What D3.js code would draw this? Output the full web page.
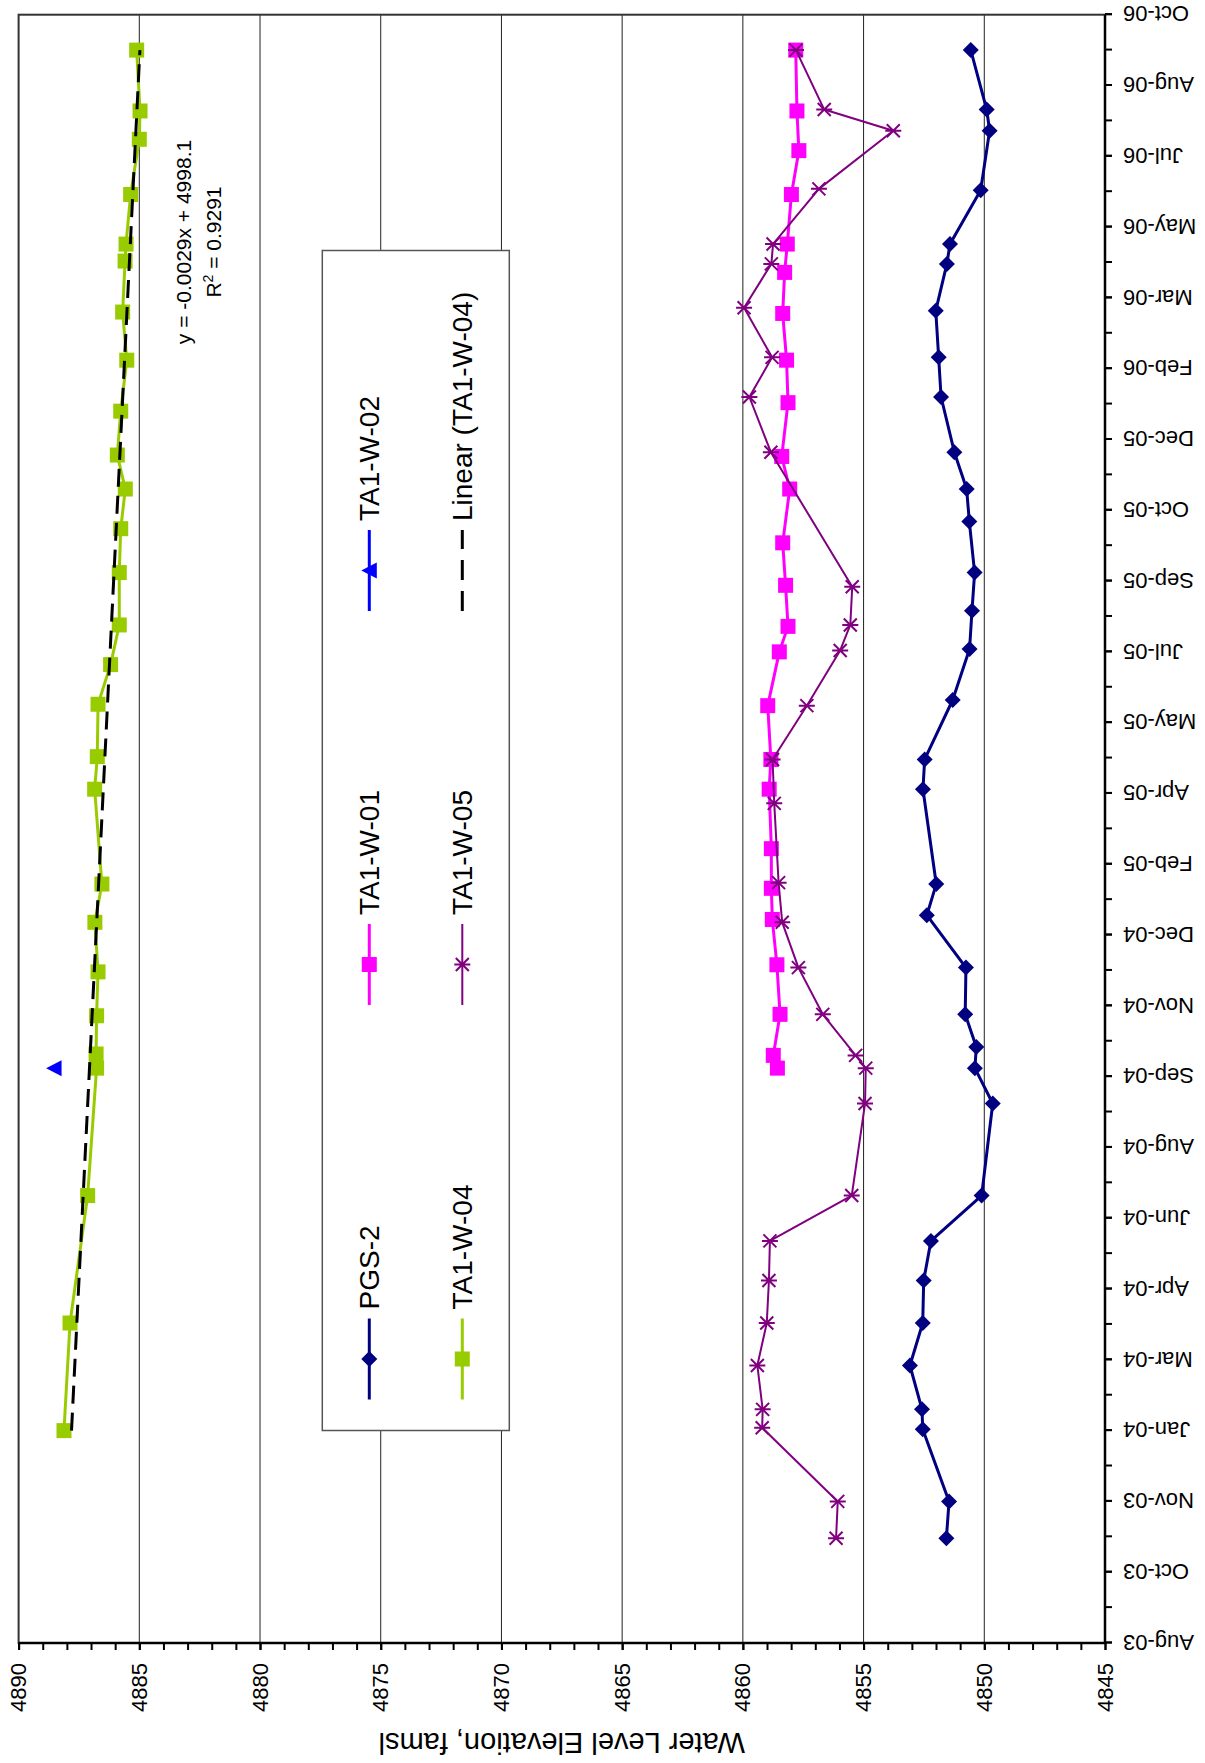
<!DOCTYPE html>
<html><head><meta charset="utf-8">
<script src="https://cdn.jsdelivr.net/npm/d3@7"></script>
<style>
body{margin:0;background:#fff}
svg{display:block}
text{font-family:"Liberation Sans",Arial,sans-serif;fill:#000}
</style>
</head><body>
<svg id="c" width="1205" height="1763"></svg>
<script>
// ---------------- DATA ----------------
const pgs2Dates = ["2003-10-30","2003-11-25","2004-01-15","2004-01-29","2004-02-29","2004-03-30","2004-04-29","2004-05-27","2004-06-28","2004-09-01","2004-09-26","2004-10-11","2004-11-03","2004-12-06","2005-01-12","2005-02-03","2005-04-11","2005-05-02","2005-06-13","2005-07-19","2005-08-15","2005-09-11","2005-10-17","2005-11-09","2005-12-05","2006-01-13","2006-02-10","2006-03-15","2006-04-17","2006-05-01","2006-06-08","2006-07-20","2006-08-04","2006-09-15"];
const pgs2Values = [4851.57,4851.46,4852.55,4852.58,4853.08,4852.55,4852.51,4852.21,4850.11,4849.65,4850.39,4850.33,4850.79,4850.76,4852.38,4851.99,4852.54,4852.47,4851.31,4850.61,4850.51,4850.40,4850.62,4850.73,4851.24,4851.79,4851.89,4852.01,4851.55,4851.42,4850.15,4849.78,4849.90,4850.56];

const w01Dates = ["2004-09-26","2004-10-05","2004-11-03","2004-12-08","2005-01-09","2005-01-31","2005-02-28","2005-04-11","2005-05-02","2005-06-09","2005-07-17","2005-08-04","2005-09-02","2005-10-02","2005-11-09","2005-12-02","2006-01-09","2006-02-08","2006-03-13","2006-04-11","2006-05-01","2006-06-05","2006-07-06","2006-08-03","2006-09-15"];
const w01Values = [4858.57,4858.74,4858.46,4858.59,4858.78,4858.82,4858.82,4858.91,4858.84,4858.97,4858.49,4858.13,4858.23,4858.35,4858.06,4858.39,4858.13,4858.19,4858.35,4858.27,4858.16,4857.99,4857.68,4857.76,4857.81];

const w02Dates = ["2004-09-26"];
const w02Values = [4888.53];

const w04Dates = ["2004-01-14","2004-03-30","2004-06-28","2004-09-26","2004-10-06","2004-11-02","2004-12-03","2005-01-07","2005-02-03","2005-04-11","2005-05-04","2005-06-10","2005-07-08","2005-08-05","2005-09-11","2005-10-12","2005-11-09","2005-12-03","2006-01-03","2006-02-08","2006-03-14","2006-04-19","2006-05-01","2006-06-05","2006-07-14","2006-08-03","2006-09-15"];
const w04Values = [4888.12,4887.87,4887.14,4886.77,4886.79,4886.77,4886.71,4886.84,4886.55,4886.85,4886.74,4886.71,4886.19,4885.83,4885.83,4885.77,4885.58,4885.91,4885.77,4885.52,4885.69,4885.59,4885.55,4885.36,4885.00,4884.97,4885.11];

const w05Dates = ["2003-10-30","2003-11-25","2004-01-16","2004-01-29","2004-02-29","2004-03-30","2004-04-29","2004-05-27","2004-06-28","2004-09-01","2004-09-26","2004-10-05","2004-11-03","2004-12-06","2005-01-07","2005-02-04","2005-04-01","2005-05-02","2005-06-09","2005-07-18","2005-08-05","2005-09-01","2005-12-05","2006-01-13","2006-02-10","2006-03-17","2006-04-17","2006-05-01","2006-06-09","2006-07-20","2006-08-04","2006-09-15"];
const w05Values = [4856.14,4856.07,4859.20,4859.18,4859.40,4859.01,4858.92,4858.88,4855.49,4854.94,4854.91,4855.33,4856.69,4857.70,4858.37,4858.52,4858.70,4858.77,4857.35,4855.97,4855.55,4855.47,4858.84,4859.73,4858.79,4859.95,4858.82,4858.75,4856.85,4853.77,4856.63,4857.80];

const seriesNames = ["PGS-2","TA1-W-01","TA1-W-02","TA1-W-04","TA1-W-05"];
const trendName = "Linear (TA1-W-04)";
const valueTicks = [4845,4850,4855,4860,4865,4870,4875,4880,4885,4890];
const dateAxisStart = "2003-08-17";
const dateAxisEnd = "2006-10-10";
const dateTickStepDays = 50;
const equationText = "y = -0.0029x + 4998.1";
const r2Text = "0.9291";
const axisTitle = "Water Level Elevation, famsl";

// ---------------- SETUP ----------------
const parse = d3.utcParse("%Y-%m-%d");
const fmt = d3.utcFormat("%b-%y");
const svg = d3.select("#c");
// chart is drawn in landscape orientation and rotated 90deg counter-clockwise
const g = svg.append("g").attr("transform", "translate(0,1763) rotate(-90)");

const plot = {left: 120, right: 1748.3, top: 18.6, bottom: 1105};
const t0 = parse(dateAxisStart), t1 = parse(dateAxisEnd);
const x = d3.scaleUtc().domain([t0, t1]).range([plot.left, plot.right]);
const y = d3.scaleLinear().domain([valueTicks[0], valueTicks[valueTicks.length-1]]).range([plot.bottom, plot.top]);

const nSteps = Math.round((t1 - t0) / 864e5 / dateTickStepDays);
const majorDates = d3.range(0, nSteps + 1).map(i => d3.utcDay.offset(t0, i * dateTickStepDays));
const minorDates = d3.range(0, nSteps * 2 + 1).map(i => d3.utcDay.offset(t0, i * dateTickStepDays / 2));

// gridlines
g.append("g").selectAll("line").data(valueTicks.slice(1, -1)).join("line")
  .attr("x1", plot.left).attr("x2", plot.right)
  .attr("y1", d => y(d)).attr("y2", d => y(d))
  .attr("stroke", "#222").attr("stroke-width", 1);

// plot border
g.append("rect").attr("x", plot.left).attr("y", plot.top)
  .attr("width", plot.right - plot.left).attr("height", plot.bottom - plot.top)
  .attr("fill", "none").attr("stroke", "#333").attr("stroke-width", 2);

// value axis
const minorVals = d3.range(valueTicks[0], valueTicks[valueTicks.length-1] + 1, 1);
g.append("g").attr("transform", `translate(${plot.left},0)`)
  .call(d3.axisLeft(y).tickValues(minorVals).tickSize(7).tickFormat(""))
  .call(a => { a.select(".domain").remove(); a.selectAll("line").attr("stroke", "#000").attr("stroke-width", 2); });
g.append("g").attr("transform", `translate(${plot.left},0)`)
  .call(d3.axisLeft(y).tickValues(valueTicks).tickSize(7).tickPadding(13).tickFormat(d3.format("d")))
  .call(a => {
    a.select(".domain").remove();
    a.selectAll("line").attr("stroke", "#000").attr("stroke-width", 2);
    a.selectAll("text").attr("font-size", 22).attr("font-family", '"Liberation Sans",Arial,sans-serif').attr("fill", "#000");
  });

// date axis
g.append("g").attr("transform", `translate(0,${plot.bottom})`)
  .call(d3.axisBottom(x).tickValues(minorDates).tickSize(7).tickFormat(""))
  .call(a => { a.select(".domain").remove(); a.selectAll("line").attr("stroke", "#000").attr("stroke-width", 2); });
g.append("g").attr("transform", `translate(0,${plot.bottom})`)
  .call(d3.axisBottom(x).tickValues(majorDates).tickSize(7).tickFormat(fmt))
  .call(a => {
    a.select(".domain").remove();
    a.selectAll("line").attr("stroke", "#000").attr("stroke-width", 2);
    a.selectAll("text").attr("font-size", 22).attr("font-family", '"Liberation Sans",Arial,sans-serif').attr("fill", "#000")
      .attr("transform", "rotate(-90)").attr("text-anchor", "end")
      .attr("x", -18).attr("y", 0).attr("dy", "0.35em");
  });

// axis lines
g.append("line").attr("x1", plot.left).attr("x2", plot.left).attr("y1", plot.top).attr("y2", plot.bottom)
  .attr("stroke", "#000").attr("stroke-width", 2.5);
g.append("line").attr("x1", plot.left).attr("x2", plot.right).attr("y1", plot.bottom).attr("y2", plot.bottom)
  .attr("stroke", "#000").attr("stroke-width", 2.5);

// axis title
g.append("text").attr("transform", `translate(30,${(plot.top + plot.bottom) / 2}) rotate(-90)`)
  .attr("text-anchor", "middle").attr("font-size", 29).text(axisTitle);

// ---------------- MARKERS ----------------
function drawMarker(sel, type, color) {
  if (type === "diamond") sel.append("path").attr("d", "M0,-8L8,0L0,8L-8,0Z").attr("fill", color);
  else if (type === "square") sel.append("rect").attr("x", -7.5).attr("y", -7.5).attr("width", 15).attr("height", 15).attr("fill", color);
  else if (type === "triangle") sel.append("path").attr("d", "M0,-8L8,7.5L-8,7.5Z").attr("fill", color);
  else if (type === "star") sel.append("path").attr("d", "M-6.5,-6.5L6.5,6.5M-6.5,6.5L6.5,-6.5M0,-8L0,8")
    .attr("stroke", color).attr("stroke-width", 2).attr("fill", "none");
}

const series = [
  {name: seriesNames[0], dates: pgs2Dates, values: pgs2Values, color: "#000080", marker: "diamond", lw: 3},
  {name: seriesNames[1], dates: w01Dates, values: w01Values, color: "#FF00FF", marker: "square", lw: 3},
  {name: seriesNames[2], dates: w02Dates, values: w02Values, color: "#0000FF", marker: "triangle", lw: 3},
  {name: seriesNames[3], dates: w04Dates, values: w04Values, color: "#99CC00", marker: "square", lw: 3},
  {name: seriesNames[4], dates: w05Dates, values: w05Values, color: "#800080", marker: "star", lw: 2}
];

const line = d3.line().x(d => x(d.date)).y(d => y(d.value));

series.forEach(s => {
  const pts = s.dates.map((d, i) => ({date: parse(d), value: s.values[i]}));
  const sg = g.append("g");
  sg.append("path").datum(pts).attr("d", line).attr("fill", "none")
    .attr("stroke", s.color).attr("stroke-width", s.lw).attr("stroke-linejoin", "round");
  sg.selectAll("g.m").data(pts).join("g").attr("class", "m")
    .attr("transform", d => `translate(${x(d.date)},${y(d.value)})`)
    .each(function() { drawMarker(d3.select(this), s.marker, s.color); });
});

// linear trendline for TA1-W-04 (least squares)
{
  const pts = w04Dates.map((d, i) => ({t: parse(d), v: w04Values[i]}));
  const xs = pts.map(p => +p.t / 864e5), ys = pts.map(p => p.v);
  const mx = d3.mean(xs), my = d3.mean(ys);
  const slope = d3.sum(xs.map((xv, i) => (xv - mx) * (ys[i] - my))) / d3.sum(xs.map(xv => (xv - mx) ** 2));
  const icpt = my - slope * mx;
  const ends = [pts[0].t, pts[pts.length - 1].t].map(t => ({date: t, value: icpt + slope * (+t / 864e5)}));
  g.append("path").datum(ends).attr("d", line).attr("fill", "none")
    .attr("stroke", "#000").attr("stroke-width", 3).attr("stroke-dasharray", "18,9");
}

// equation label
g.append("text").attr("x", 1521).attr("y", 191).attr("text-anchor", "middle").attr("font-size", 21).text(equationText);
{
  const t = g.append("text").attr("x", 1521).attr("y", 220.5).attr("text-anchor", "middle").attr("font-size", 21);
  t.append("tspan").text("R");
  t.append("tspan").attr("font-size", 14).attr("dy", -8).text("2");
  t.append("tspan").attr("dy", 8).text(" = " + r2Text);
}

// ---------------- LEGEND ----------------
const lg = g.append("g");
lg.append("rect").attr("x", 332.5).attr("y", 322.3).attr("width", 1180).attr("height", 187)
  .attr("fill", "#fff").attr("stroke", "#555").attr("stroke-width", 1.5);
const legendCols = [363.5, 758, 1152];
const legendRows = [369.3, 462.3];
const legendItems = [
  {label: seriesNames[0], color: "#000080", marker: "diamond", lw: 3},
  {label: seriesNames[1], color: "#FF00FF", marker: "square", lw: 3},
  {label: seriesNames[2], color: "#0000FF", marker: "triangle", lw: 3},
  {label: seriesNames[3], color: "#99CC00", marker: "square", lw: 3},
  {label: seriesNames[4], color: "#800080", marker: "star", lw: 2},
  {label: trendName, color: "#000", marker: null, lw: 3, dash: "20,11"}
];
legendItems.forEach((it, i) => {
  const cx = legendCols[i % 3], cy = legendRows[Math.floor(i / 3)];
  const ig = lg.append("g").attr("transform", `translate(${cx},${cy})`);
  ig.append("line").attr("x1", 0).attr("x2", 81).attr("y1", 0).attr("y2", 0)
    .attr("stroke", it.color).attr("stroke-width", it.lw).attr("stroke-dasharray", it.dash || null);
  if (it.marker) drawMarker(ig.append("g").attr("transform", "translate(40.5,0)"), it.marker, it.color);
  ig.append("text").attr("x", 90).attr("y", 0).attr("dy", "0.35em").attr("font-size", 28).text(it.label);
});
</script>
</body></html>
